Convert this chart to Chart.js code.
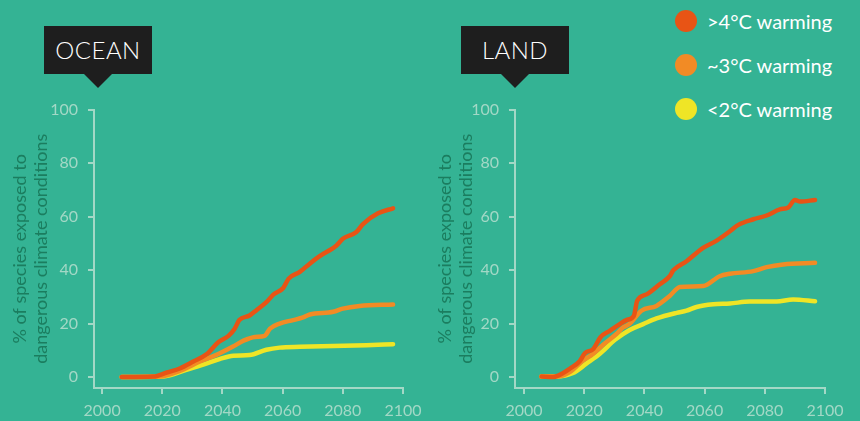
<!DOCTYPE html>
<html>
<head>
<meta charset="utf-8">
<script src="https://cdn.jsdelivr.net/npm/chart.js@4.4.0/dist/chart.umd.min.js"></script>
<style>
  body { margin: 0; width: 860px; height: 421px; overflow: hidden; position: relative; background: #34b394; font-family: Lato, sans-serif; }
  .panel { position: absolute; top: 90px; width: 430px; height: 331px; }
  .tag { position: absolute; top: 26px; width: 108px; height: 48px; background: #1e1e1e; color: #fff; font-size: 24px; font-weight: 300; line-height: 48px; text-align: center; letter-spacing: 0.5px; }
  .tag:after { content: ''; position: absolute; left: 50%; bottom: -14px; margin-left: -14px; border-left: 14px solid transparent; border-right: 14px solid transparent; border-top: 14px solid #1e1e1e; }
  #legenda { position: absolute; left: 675px; top: 10px; }
  .item { position: relative; height: 44px; }
  .dot { position: absolute; left: 0; top: 0; width: 22px; height: 22px; border-radius: 50%; }
  .item span { position: absolute; left: 32px; top: -1px; color: #fff; font-size: 20px; white-space: nowrap; line-height: 24px; }
</style>
</head>
<body>
<div class="tag" style="left:44px">OCEAN</div>
<div class="tag" style="left:461px">LAND</div>
<div id="legenda"></div>
<div class="panel" style="left:0"><canvas id="graficoOcean"></canvas></div>
<div class="panel" style="left:430px"><canvas id="graficoLand"></canvas></div>

<script>
const seriesLabels = ['>4°C warming', '~3°C warming', '<2°C warming'];
const seriesColors = ['#e85415', '#f28b25', '#efe526'];
const xTicks = [2000, 2020, 2040, 2060, 2080, 2100];
const yTicks = [0, 20, 40, 60, 80, 100];
const yTitle = ['% of species exposed to', 'dangerous climate conditions'];

// OCEAN
const oceanHotYears = [2006.5, 2017, 2021.5, 2026, 2030.3, 2034.7, 2038.6, 2042, 2044, 2045.6, 2049, 2051.3, 2054.6, 2056.9, 2060.2, 2062, 2065.7, 2069, 2072.3, 2077.9, 2080, 2084.5, 2086.7, 2091.7, 2096.7];
const oceanHot = [0, 0.2, 1.7, 3.3, 5.8, 8.5, 13, 15.4, 18, 21.3, 23, 25, 28, 30.8, 33.3, 36.8, 39.3, 42.4, 45.2, 49.2, 51.7, 54.2, 57.2, 61.2, 63.1];
const oceanMidYears = [2006.5, 2019, 2026, 2032.5, 2038, 2043.5, 2047, 2050.8, 2054, 2055.8, 2059, 2063.5, 2066.8, 2069, 2076.8, 2080, 2085.6, 2096.7];
const oceanMid = [0, 0.2, 2.4, 5.8, 8.3, 11.4, 13.6, 15, 15.4, 18.1, 20, 21.3, 22.3, 23.4, 24.4, 25.6, 26.6, 27.1];
const oceanLowYears = [2006.5, 2020.4, 2028, 2033.6, 2039, 2043.6, 2049, 2054.6, 2059, 2065.7, 2076.8, 2087.8, 2096.7];
const oceanLow = [0, 0.2, 2.7, 4.6, 6.7, 8, 8.2, 10.2, 11, 11.3, 11.6, 11.9, 12.3];

// LAND
const landHotYears = [2005.8, 2009.6, 2013, 2015.2, 2018.5, 2020.2, 2023, 2025.4, 2028.5, 2031.8, 2034, 2036.5, 2037.6, 2040.7, 2045.1, 2048.4, 2049.6, 2054, 2059.5, 2064, 2068.4, 2071.2, 2076.2, 2080.6, 2085, 2087.8, 2090, 2091.7, 2096.7];
const landHot = [0.2, 0, 1.5, 3.1, 5.9, 8.9, 10.5, 14.9, 17.3, 19.8, 21.3, 22.9, 28.5, 30.9, 34.7, 37.7, 39.9, 43.3, 48.3, 51, 54.5, 56.9, 59, 60.4, 62.7, 63.4, 66.2, 65.6, 66.2];
const landMidYears = [2005.8, 2010.8, 2015.2, 2019.6, 2023, 2026.3, 2030.7, 2033, 2035, 2039, 2044, 2048.4, 2051.8, 2059.5, 2065, 2068.4, 2076.2, 2080.6, 2086.1, 2096.7];
const landMid = [0.2, 0.2, 1.9, 6.2, 8.7, 12.1, 16.1, 18.6, 19.8, 24.8, 26.6, 30.3, 33.7, 34, 37.7, 38.6, 39.6, 41.1, 42.1, 42.7];
const landLowYears = [2005.8, 2010.8, 2016.3, 2020.7, 2025.2, 2030.2, 2035.1, 2039.6, 2044, 2050.7, 2054, 2057.3, 2062.9, 2068.4, 2075, 2083.9, 2089.4, 2096.7];
const landLow = [0.2, 0.2, 1.5, 5, 8.7, 13.9, 17.6, 19.8, 21.9, 24, 24.8, 26.2, 27.2, 27.5, 28.2, 28.2, 29, 28.3];

const corEixo = '#a3d8c6';
const corTitulo = '#1b7d5f';

function pontos(anos, valores) {
  return anos.map((ano, i) => ({ x: ano, y: valores[i] }));
}

function gerarGrafico(id, series, xMin, larguraEixo, padDireita, padTitulo) {
  const ctx = document.getElementById(id).getContext('2d');
  new Chart(ctx, {
    type: 'line',
    data: {
      datasets: series.map((s, i) => ({
        label: seriesLabels[i],
        data: pontos(s[0], s[1]),
        borderColor: seriesColors[i],
        borderWidth: 4.5,
        borderCapStyle: 'round',
        borderJoinStyle: 'round',
        pointRadius: 0,
        cubicInterpolationMode: 'monotone',
        fill: false
      }))
    },
    options: {
      responsive: true,
      maintainAspectRatio: false,
      animation: false,
      layout: { padding: { top: 18, right: padDireita, left: 0, bottom: 0 } },
      scales: {
        x: {
          type: 'linear',
          min: xMin,
          max: 2100,
          afterBuildTicks: s => { s.ticks = xTicks.map(v => ({ value: v })); },
          afterFit: s => { s.height = 33; },
          ticks: {
            color: corEixo,
            font: { family: 'Lato', size: 16 },
            padding: 7,
            maxRotation: 0,
            callback: v => String(v)
          },
          grid: { drawOnChartArea: false, color: corEixo, lineWidth: 2, tickLength: 6 },
          border: { color: corEixo, width: 2 }
        },
        y: {
          min: -4.1,
          max: 100,
          afterBuildTicks: s => { s.ticks = yTicks.map(v => ({ value: v })); },
          afterFit: s => { s.width = larguraEixo; },
          ticks: {
            color: corEixo,
            font: { family: 'Lato', size: 16 },
            padding: 10,
            callback: v => String(v)
          },
          grid: { drawOnChartArea: false, color: corEixo, lineWidth: 2, tickLength: 6 },
          border: { color: corEixo, width: 2 },
          title: {
            display: true,
            text: yTitle,
            color: corTitulo,
            font: { family: 'Lato', size: 18 },
            padding: { top: padTitulo, bottom: 0 }
          }
        }
      },
      plugins: {
        legend: { display: false },
        tooltip: { enabled: false }
      }
    }
  });
}

function montarLegenda() {
  const el = document.getElementById('legenda');
  seriesLabels.forEach((txt, i) => {
    const item = document.createElement('div');
    item.className = 'item';
    item.innerHTML = '<div class="dot" style="background:' + seriesColors[i] + '"></div>';
    const span = document.createElement('span');
    span.textContent = txt;
    item.appendChild(span);
    el.appendChild(item);
  });
}

montarLegenda();
gerarGrafico('graficoOcean', [[oceanHotYears, oceanHot], [oceanMidYears, oceanMid], [oceanLowYears, oceanLow]], 1997.3, 94, 27, 9);
gerarGrafico('graficoLand', [[landHotYears, landHot], [landMidYears, landMid], [landLowYears, landLow]], 1997.0, 85, 35, 4);
</script>
</body>
</html>
